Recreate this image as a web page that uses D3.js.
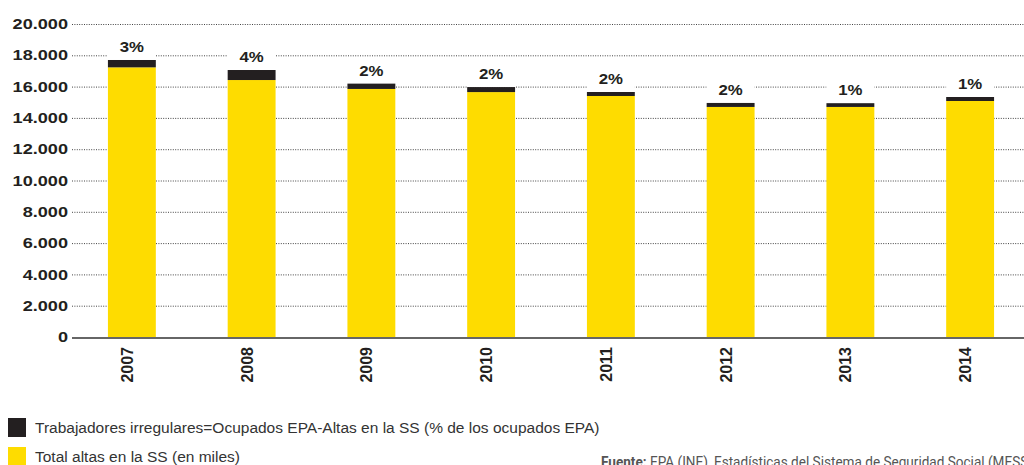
<!DOCTYPE html>
<html>
<head>
<meta charset="utf-8">
<script src="https://cdn.jsdelivr.net/npm/d3@7"></script>
<style>
  html, body { margin: 0; padding: 0; background: #fff; }
  svg { display: block; }
</style>
</head>
<body>
<svg id="chart" width="1024" height="465"></svg>
<script>
const years = ["2007", "2008", "2009", "2010", "2011", "2012", "2013", "2014"];
const altasSS = [17230, 16420, 15850, 15650, 15400, 14700, 14700, 15080];
const irregulares = [470, 640, 340, 320, 255, 255, 240, 255];
const pctLabels = ["3%", "4%", "2%", "2%", "2%", "2%", "1%", "1%"];
const yTicks = [0, 2000, 4000, 6000, 8000, 10000, 12000, 14000, 16000, 18000, 20000];
const legendLabels = [
  "Trabajadores irregulares=Ocupados EPA-Altas en la SS (% de los ocupados EPA)",
  "Total altas en la SS (en miles)"
];
const sourceBold = "Fuente:";
const sourceText = " EPA (INE), Estadísticas del Sistema de Seguridad Social (MESS)";

const YELLOW = "#FEDC00";
const BLACK = "#231F20";

const svg = d3.select("#chart");
const x = d3.scaleBand().domain(years).range([72, 1030]).paddingInner(0.6).paddingOuter(0.3);
const y = d3.scaleLinear().domain([0, 20000]).range([337, 24]);

const fmt = v => d3.format(",")(v).replace(/,/g, ".");

// gridlines
svg.append("g").selectAll("line").data(yTicks.filter(d => d > 0)).join("line")
  .attr("x1", 72).attr("x2", 1024)
  .attr("y1", d => y(d) + 0.5).attr("y2", d => y(d) + 0.5)
  .attr("stroke", "#444").attr("stroke-width", 1).attr("stroke-dasharray", "1,1.4");

// y axis labels
const yAxis = d3.axisLeft(y).tickValues(yTicks).tickSize(0).tickPadding(0).tickFormat(fmt);
const gy = svg.append("g").attr("transform", "translate(68,0)").call(yAxis);
gy.select(".domain").remove();
gy.selectAll("text")
  .attr("font-family", "Liberation Sans, Arial, sans-serif").attr("font-weight", "bold")
  .attr("font-size", "14.5px").attr("fill", BLACK)
  .attr("transform", "scale(1.25,1)");

const data = years.map((yr, i) => ({ yr, altas: altasSS[i], irr: irregulares[i], pct: pctLabels[i] }));

// white masks behind labels
svg.append("g").selectAll("rect").data(data).join("rect")
  .attr("x", d => x(d.yr)).attr("width", x.bandwidth())
  .attr("y", d => y(d.altas + d.irr) - 22).attr("height", 22)
  .attr("fill", "#fff");

// yellow bars
svg.append("g").selectAll("rect").data(data).join("rect")
  .attr("x", d => x(d.yr)).attr("width", x.bandwidth())
  .attr("y", d => y(d.altas)).attr("height", d => y(0) - y(d.altas))
  .attr("fill", YELLOW);

// black segments
svg.append("g").selectAll("rect").data(data).join("rect")
  .attr("x", d => x(d.yr)).attr("width", x.bandwidth())
  .attr("y", d => y(d.altas + d.irr)).attr("height", d => y(d.altas) - y(d.altas + d.irr))
  .attr("fill", BLACK);

// pct labels
svg.append("g").selectAll("text").data(data).join("text")
  .attr("transform", d => `translate(${x(d.yr) + x.bandwidth() / 2},${y(d.altas + d.irr) - 8}) scale(1.12,1)`)
  .attr("text-anchor", "middle")
  .attr("font-family", "Liberation Sans, Arial, sans-serif").attr("font-weight", "bold")
  .attr("font-size", "15px").attr("fill", BLACK)
  .text(d => d.pct);

// x axis line
svg.append("line").attr("x1", 72).attr("x2", 1024).attr("y1", 338).attr("y2", 338)
  .attr("stroke", "#666").attr("stroke-width", 2);

// x axis labels via d3 axis
const xAxis = d3.axisBottom(x).tickSize(0).tickPadding(0);
const gx = svg.append("g").attr("transform", "translate(0,347)").call(xAxis);
gx.select(".domain").remove();
gx.selectAll("text")
  .attr("transform", "translate(1,0) rotate(-90)")
  .attr("x", 0).attr("y", 0).attr("dy", "0")
  .attr("text-anchor", "end")
  .attr("font-family", "Liberation Sans, Arial, sans-serif").attr("font-weight", "bold")
  .attr("font-size", "16px").attr("fill", BLACK);

// legend
const legendColors = [BLACK, YELLOW];
const legendY = [418, 447];
const lg = svg.append("g");
legendLabels.forEach((t, i) => {
  lg.append("rect").attr("x", 8).attr("y", legendY[i]).attr("width", 18).attr("height", 19).attr("fill", legendColors[i]);
  lg.append("text").attr("x", 35).attr("y", legendY[i] + 15)
    .attr("font-family", "Liberation Sans, Arial, sans-serif").attr("font-size", "15.5px")
    .attr("fill", "#333").text(t);
});

// source
const src = svg.append("text").attr("x", 601).attr("y", 467)
  .attr("font-family", "Roboto, Liberation Sans, sans-serif").attr("font-size", "15px").attr("fill", "#555")
  .attr("textLength", 432).attr("lengthAdjust", "spacingAndGlyphs");
src.append("tspan").attr("font-weight", "bold").text(sourceBold);
src.append("tspan").text(sourceText);
</script>
</body>
</html>
